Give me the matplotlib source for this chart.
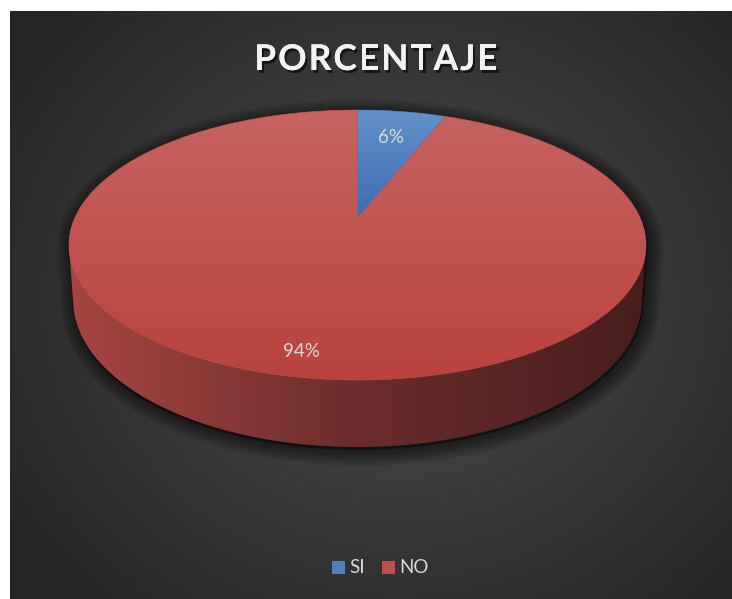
import numpy as np
import matplotlib
matplotlib.use("Agg")
import matplotlib.pyplot as plt
from matplotlib.patches import Polygon, Rectangle
import matplotlib.patheffects as pe

# ---------------- data ----------------
title = "PORCENTAJE"
categories = ["SI", "NO"]
values = [6, 94]
labels = ["6%", "94%"]
slice_colors = ["#4F81BD", "#C0504D"]

# ---------------- layout (pixels) ----------------
W, H = 732, 599
fig = plt.figure(figsize=(W / 100, H / 100), dpi=100)
ax = fig.add_axes([0, 0, 1, 1])
ax.set_xlim(0, W)
ax.set_ylim(H, 0)
ax.axis("off")
fig.patch.set_facecolor("white")

# background radial gradient
fx0, fy0, fx1, fy1 = 10, 11, 732, 599
gx = np.linspace(fx0, fx1, 400)
gy = np.linspace(fy0, fy1, 330)
GX, GY = np.meshgrid(gx, gy)
d = np.sqrt((GX - 400) ** 2 + ((GY - 300) / 0.9) ** 2)
t = np.clip(d / 470, 0, 1)
c_in = np.array([78, 78, 78]) / 255
c_out = np.array([37, 37, 37]) / 255
bg = c_in[None, None, :] * (1 - t[..., None]) + c_out[None, None, :] * t[..., None]
ax.imshow(bg, extent=(fx0, fx1, fy1, fy0), origin="upper", zorder=0, interpolation="bilinear")

# ---------------- perspective pie projection ----------------
cx = 357.5
K = 282.7          # horizontal scale
A, B, g = 218.0, -86.0, 0.2   # vertical homography of the top disc
K2 = K * 0.985     # bottom disc slightly smaller (farther)
D0 = 53.6          # depth


def proj(theta_deg, r=1.0, bottom=False):
    th = np.radians(theta_deg)
    u, v = r * np.sin(th), r * np.cos(th)
    den = 1 + g * v
    if bottom:
        return cx + K2 * u / den, (A + B * v + D0) / den
    return cx + K * u / den, (A + B * v) / den


def hull(points):
    pts = sorted(set(points))
    def cross(o, a_, b_):
        return (a_[0] - o[0]) * (b_[1] - o[1]) - (a_[1] - o[1]) * (b_[0] - o[0])
    lower, upper = [], []
    for p in pts:
        while len(lower) >= 2 and cross(lower[-2], lower[-1], p) <= 0:
            lower.pop()
        lower.append(p)
    for p in reversed(pts):
        while len(upper) >= 2 and cross(upper[-2], upper[-1], p) <= 0:
            upper.pop()
        upper.append(p)
    return lower[:-1] + upper[:-1]


total = float(sum(values))
starts = np.concatenate([[0], np.cumsum(values)[:-1]]) / total * 360
ends = np.cumsum(values) / total * 360

# body silhouette
all_th = np.linspace(0, 360, 721)
tx, ty = proj(all_th)
bx, by = proj(all_th, bottom=True)
body = hull(list(zip(np.round(tx, 3), np.round(ty, 3))) + list(zip(np.round(bx, 3), np.round(by, 3))))

# shadow
sh = [(x + 3, y + 4) for x, y in body]
for lw in range(22, 0, -2):
    ax.add_patch(Polygon(sh, closed=True, facecolor="none", edgecolor="black",
                         linewidth=lw, alpha=0.05, joinstyle="round", zorder=1))
ax.add_patch(Polygon([(x + 1, y + 2) for x, y in body], closed=True, facecolor="black",
                     edgecolor="black", linewidth=1.5, alpha=0.35, zorder=1))


def to_rgb(h):
    return np.array(matplotlib.colors.to_rgb(h))


# side walls: horizontal shading (left lit, right dark)
xs_g = np.linspace(cx - K * 1.03, cx + K * 1.03, 600)
fr = (xs_g - xs_g[0]) / (xs_g[-1] - xs_g[0])
fac = np.interp(fr, [0, 0.5, 1], [0.87, 0.56, 0.37])
for s, e_, col in zip(starts, ends, slice_colors):
    ths = np.linspace(s, e_, 400)
    p1 = list(zip(*proj(ths)))
    p2 = list(zip(*proj(ths, bottom=True)))
    poly = Polygon(hull(p1 + p2), closed=True, facecolor="none", edgecolor="none", zorder=2)
    ax.add_patch(poly)
    base = to_rgb(col)
    img = np.clip(base[None, :] * fac[:, None], 0, 1)[None, :, :]
    img = np.repeat(img, 2, axis=0)
    im = ax.imshow(img, extent=(xs_g[0], xs_g[-1], 470, 100), origin="upper",
                   zorder=2, interpolation="bilinear", aspect="auto")
    im.set_clip_path(poly)

# top faces with vertical gradient
grad_tops = {"#4F81BD": ((101, 146, 204), (58, 108, 174)),
             "#C0504D": ((199, 99, 96), (185, 66, 63))}
centre = (cx, A)
for s, e_, col in zip(starts, ends, slice_colors):
    ths = np.linspace(s, e_, 400)
    xs, ys = proj(ths)
    verts = [centre] + list(zip(xs, ys))
    poly = Polygon(verts, closed=True, facecolor="none", edgecolor="none", zorder=3)
    ax.add_patch(poly)
    ymin, ymax = min(ys.min(), A), max(ys.max(), A)
    ctop, cbot = [np.array(c) / 255 for c in grad_tops[col]]
    tt = np.linspace(0, 1, 256)[:, None, None]
    img = ctop[None, None, :] * (1 - tt) + cbot[None, None, :] * tt
    img = np.repeat(img, 2, axis=1)
    im = ax.imshow(img, extent=(cx - 300, cx + 300, ymax + 1, ymin - 1), origin="upper",
                   zorder=3, interpolation="bilinear", aspect="auto")
    im.set_clip_path(poly)
    ax.add_patch(Polygon(verts, closed=True, facecolor="none",
                         edgecolor=tuple((ctop + cbot) / 2), linewidth=0.4, zorder=3.5))

ax.set_xlim(0, W)
ax.set_ylim(H, 0)

# data labels
label_r = [0.72, 0.87]
for s, e_, lab, rr in zip(starts, ends, labels, label_r):
    lx, ly = proj((s + e_) / 2, r=rr)
    ax.text(lx, ly, lab, color="#D9D9D9", fontsize=13.5, family="Lato",
            ha="center", va="center", zorder=5)

# title with letter spacing
fig.canvas.draw()
renderer = fig.canvas.get_renderer()
tprops = dict(color="#F2F2F2", fontsize=25.5, family="Lato", fontweight="bold", zorder=5,
              path_effects=[pe.withSimplePatchShadow(offset=(1.5, -2), shadow_rgbFace="black", alpha=0.6),
                            pe.Normal()])
track = 2.0
widths = []
for ch in title:
    tmp = ax.text(0, 0, ch, **tprops)
    widths.append(tmp.get_window_extent(renderer).width)
    tmp.remove()
total_w = sum(widths) + track * (len(title) - 1)
x = 376 - total_w / 2
for ch, w in zip(title, widths):
    ax.text(x, 60, ch, ha="left", va="center", **tprops)
    x += w + track

# legend
lx = 332
for cat, col in zip(categories, slice_colors):
    ax.add_patch(Rectangle((lx, 560.5), 13, 13, facecolor=col, edgecolor="none", zorder=5))
    ax.text(lx + 17, 567.5, cat, color="#D9D9D9", fontsize=13.5, family="Lato",
            ha="left", va="center", zorder=5)
    lx += 50

fig.savefig("out.png", dpi=100, facecolor="white")
